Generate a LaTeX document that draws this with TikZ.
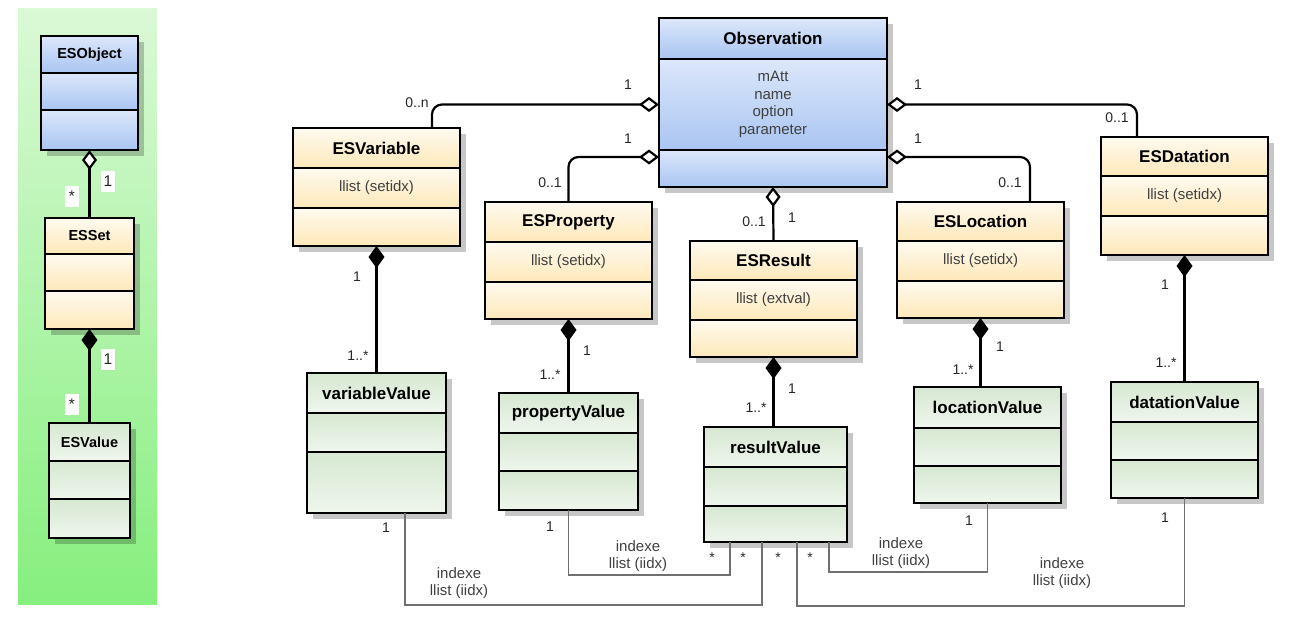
\documentclass[tikz,border=0pt]{standalone}
\usepackage{fontspec}
\setmainfont{Liberation Sans}
\usepackage{tikz}
\usetikzlibrary{positioning, arrows.meta, shadows}
\definecolor{objtop}{HTML}{DCE7FB}
\definecolor{objbot}{HTML}{A9C5F1}
\definecolor{estop}{HTML}{FFFAF0}
\definecolor{esbot}{HTML}{FDE8B8}
\definecolor{valtop}{HTML}{D6E8D1}
\definecolor{valbot}{HTML}{EFF6ED}
\definecolor{paneltop}{HTML}{DAF9D6}
\definecolor{panelbot}{HTML}{86EF7E}
\definecolor{linkgray}{HTML}{707070}
\definecolor{txtgray}{HTML}{404040}

\begin{document}
\begin{tikzpicture}[x=1pt, y=-1pt,
    box/.style={draw, line width=2.2pt, inner sep=2pt, outer sep=0pt, align=center,
                drop shadow={shadow xshift=6pt, shadow yshift=-6pt, fill=black, opacity=0.22}},
    hdr/.style={box, font=\fontsize{17}{19}\selectfont\bfseries},
    smallhdr/.style={box, font=\fontsize{14.5}{17}\selectfont\bfseries},
    cmp/.style={box, font=\fontsize{15}{17.5}\selectfont, text=txtgray},
    agg/.style={{Diamond[length=20pt, width=15pt, fill=white]}-, line width=2.2pt, rounded corners=10pt},
    comp/.style={{Diamond[length=22pt, width=16pt]}-, line width=2.2pt},
    link/.style={draw=linkgray, line width=1.4pt},
    mult/.style={font=\fontsize{14}{16}\selectfont, text=black!85, inner sep=1pt},
    multbox/.style={mult, fill=white, minimum width=14pt, minimum height=21pt, font=\fontsize{15.5}{17}\selectfont},
    role/.style={font=\fontsize{15}{17.5}\selectfont, text=txtgray, align=center, inner sep=1pt},
]
\useasboundingbox (0,0) rectangle (1292,633);
\fill[top color=paneltop, bottom color=panelbot] (18,8) rectangle (157,604);

% left panel
\foreach \n/\x/\y/\w/\ha/\hb/\hc/\t/\k in {
    esobj/41/36/97/37/37/40/ESObject/obj,
    esset/45/218/89/36/37/38/ESSet/es,
    esval/49/423/81/38/38/39/ESValue/val}
{
  \node[smallhdr, top color=\k top, bottom color=\k bot, minimum width=\w pt, minimum height=\ha pt, anchor=north west] (\n) at (\x,\y) {\t};
  \node[cmp, top color=\k top, bottom color=\k bot, minimum width=\w pt, minimum height=\hb pt, below=0pt of \n] (\n-a) {};
  \node[cmp, top color=\k top, bottom color=\k bot, minimum width=\w pt, minimum height=\hc pt, below=0pt of \n-a] (\n-o) {};
}

% main diagram
\foreach \n/\x/\y/\w/\ha/\hb/\hc/\t/\a/\k in {
    obs/659/18/228/41/91/37/Observation/{mAtt\\name\\option\\parameter}/obj,
    esvar/293/128/167/40/40/38/ESVariable/llist (setidx)/es,
    esprop/485/202/167/40/40/37/ESProperty/llist (setidx)/es,
    esres/690/241/167/39/40/37/ESResult/llist (extval)/es,
    esloc/897/202/167/39/40/37/ESLocation/llist (setidx)/es,
    esdat/1101/137/167/39/40/39/ESDatation/llist (setidx)/es,
    varval/307/373/139/40/39/61/variableValue//val,
    propval/499/393/139/40/38/39/propertyValue//val,
    resval/704/427/143/40/39/36/resultValue//val,
    locval/914/387/147/41/38/37/locationValue//val,
    datval/1111/382/147/40/38/38/datationValue//val}
{
  \node[hdr, top color=\k top, bottom color=\k bot, minimum width=\w pt, minimum height=\ha pt, anchor=north west] (\n) at (\x,\y) {\t};
  \node[cmp, top color=\k top, bottom color=\k bot, minimum width=\w pt, minimum height=\hb pt, below=0pt of \n] (\n-a) {\a};
  \node[cmp, top color=\k top, bottom color=\k bot, minimum width=\w pt, minimum height=\hc pt, below=0pt of \n-a] (\n-o) {};
}

\draw[agg] (esobj-o.south) -- (esset.north);
\draw[comp] (esset-o.south) -- (esval.north);

\draw[agg] (obs-a.west) -| ([xshift=55.5pt]esvar.north);
\draw[agg] ([yshift=11.5pt]obs-o.west) -| (esprop.north);
\draw[agg] (obs-o.south) -- (esres.north);
\draw[agg] ([yshift=11.5pt]obs-o.east) -| ([xshift=49.5pt]esloc.north);
\draw[agg] (obs-a.east) -| ([xshift=-47.5pt]esdat.north);

\draw[comp] (esvar-o.south) -- (varval.north);
\draw[comp] (esprop-o.south) -- (propval.north);
\draw[comp] (esres-o.south) -- (esres-o.south |- resval.north);
\draw[comp] (esloc-o.south) -- (esloc-o.south |- locval.north);
\draw[comp] (esdat-o.south) -- (datval.north);

\draw[link] ([xshift=28.5pt]varval-o.south) -- ++(0,92) -| ([xshift=-13.5pt]resval-o.south);
\draw[link] (propval-o.south) -- ++(0,65) -| ([xshift=-45.5pt]resval-o.south);
\draw[link] (locval-o.south) -- ++(0,69) -| ([xshift=53.5pt]resval-o.south);
\draw[link] (datval-o.south) -- ++(0,108) -| ([xshift=21.5pt]resval-o.south);

% multiplicities
\node[multbox] (p1) at (108,181) {1};
\node[multbox] (p2) at (72,196) {*};
\node[multbox] (p3) at (108,359) {1};
\node[multbox] (p4) at (72,404) {*};
\foreach \x/\y/\t [count=\i] in {
    417/103/0..n, 628/85/1, 628/139/1, 550/183/0..1, 754/222/0..1, 792/218/1,
    918/85/1, 918/139/1, 1010/183/0..1, 1117/118/0..1,
    357/277/1, 358/356/1..*, 587/351/1, 550/375/1..*, 792/389/1, 756/408/1..*,
    1000/347/1, 963/370/1..*, 1165/285/1, 1166/363/1..*,
    386/528/1, 550/527/1, 969/521/1, 1165/518/1,
    712/558/*, 743/558/*, 778/558/*, 810/558/*}
  \node[mult] (m\i) at (\x,\y) {\t};

\foreach \x/\y [count=\i] in {459/583, 638/556, 901/553, 1062/573}
  \node[role] (ix\i) at (\x,\y) {indexe\\llist (iidx)};
\end{tikzpicture}
\end{document}
